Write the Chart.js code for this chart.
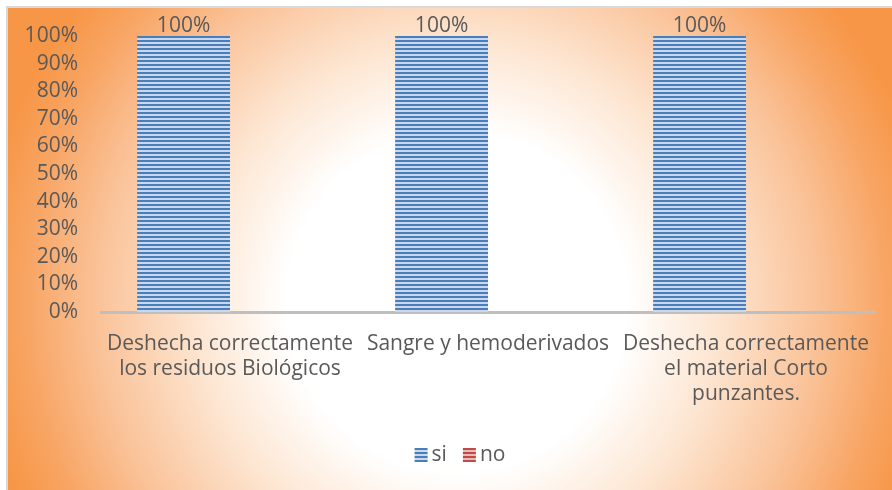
<!DOCTYPE html>
<html>
<head>
<meta charset="utf-8">
<script src="https://cdn.jsdelivr.net/npm/chart.js@4.4.1/dist/chart.umd.min.js"></script>
<style>
  html, body { margin: 0; padding: 0; background: #ffffff; }
  #bg {
    position: absolute; left: 6px; top: 6px; width: 886px; height: 484px;
    border-left: 2px solid #d9d9d9; border-top: 2px solid #d9d9d9;
    box-sizing: border-box;
    background: radial-gradient(circle 480px at 449px 294px, #ffffff 0px, #ffffff 170px, #fde6d2 260px, #fac298 360px, #f8a564 430px, #f79646 480px);
  }
  #wrap { position: absolute; left: 0; top: 0; width: 892px; height: 490px; }
</style>
</head>
<body>
<div id="bg"></div>
<div id="wrap"><canvas id="c" width="892" height="490"></canvas></div>
<script>
const categories = [
  ["Deshecha correctamente", "los residuos Biológicos"],
  ["Sangre y hemoderivados"],
  ["Deshecha correctamente", "el material Corto", "punzantes."]
];
const seriesNames = ["si", "no"];
const siValues = [100, 100, 100];
const noValues = [0, 0, 0];
const yTicks = [0, 10, 20, 30, 40, 50, 60, 70, 80, 90, 100];

function stripePattern(dark, light) {
  const p = document.createElement('canvas');
  p.width = 4; p.height = 4;
  const g = p.getContext('2d');
  g.fillStyle = light; g.fillRect(0, 0, 4, 4);
  g.fillStyle = dark; g.fillRect(0, 0, 4, 2);
  return document.getElementById('c').getContext('2d').createPattern(p, 'repeat');
}
const siFill = stripePattern('#4a7ebb', '#c9d8ec');
const noFill = stripePattern('#be4b48', '#eab9b8');

const FONT = "'Open Sans', sans-serif";
const FS = 21;
const TEXT = '#595959';

const valueLabels = {
  id: 'valueLabels',
  afterDatasetsDraw(chart) {
    const ctx = chart.ctx;
    ctx.save();
    ctx.font = FS + "px " + FONT;
    ctx.fillStyle = TEXT;
    ctx.textAlign = 'center';
    ctx.textBaseline = 'bottom';
    chart.data.datasets.forEach((ds, di) => {
      const meta = chart.getDatasetMeta(di);
      meta.data.forEach((bar, i) => {
        const v = ds.data[i];
        if (!v) return;
        ctx.fillText(v + '%', bar.x, bar.y + 1);
      });
    });
    ctx.restore();
  }
};

const customLegend = {
  id: 'customLegend',
  afterDraw(chart) {
    const ctx = chart.ctx;
    ctx.save();
    ctx.font = FS + "px " + FONT;
    ctx.textBaseline = 'middle';
    ctx.textAlign = 'left';
    const boxW = 13, boxH = 14, gapText = 4, gapItem = 16;
    const items = chart.data.datasets.map(ds => ({ label: ds.label, fill: ds.backgroundColor, w: ctx.measureText(ds.label).width }));
    let total = 0;
    items.forEach((it, i) => { total += boxW + gapText + it.w + (i < items.length - 1 ? gapItem : 0); });
    const cy = 455;
    let x = 460 - total / 2;
    items.forEach(it => {
      ctx.fillStyle = it.fill;
      ctx.fillRect(x, cy - boxH / 2, boxW, boxH);
      x += boxW + gapText;
      ctx.fillStyle = TEXT;
      ctx.fillText(it.label, x, cy);
      x += it.w + gapItem;
    });
    ctx.restore();
  }
};

new Chart(document.getElementById('c'), {
  type: 'bar',
  data: {
    labels: categories,
    datasets: [
      { label: seriesNames[0], data: siValues, backgroundColor: siFill, borderWidth: 0 },
      { label: seriesNames[1], data: noValues, backgroundColor: noFill, borderWidth: 0 }
    ]
  },
  options: {
    responsive: false,
    animation: false,
    devicePixelRatio: 1,
    layout: { padding: { left: 0, right: 17, top: 36, bottom: 0 } },
    datasets: { bar: { barPercentage: 1.0, categoryPercentage: 0.72 } },
    scales: {
      x: {
        afterFit(s) { s.height = 178; },
        grid: { display: false, drawTicks: false },
        border: { display: true, color: '#bfbfbf', width: 3 },
        ticks: { color: TEXT, font: { family: FONT, size: FS, lineHeight: 1.2 }, padding: 19, maxRotation: 0, autoSkip: false }
      },
      y: {
        min: 0, max: 100,
        afterFit(s) { s.width = 101; },
        afterBuildTicks(s) { s.ticks = yTicks.map(v => ({ value: v })); },
        grid: { display: false, drawTicks: false },
        border: { display: false },
        ticks: { color: TEXT, font: { family: FONT, size: FS }, padding: 23, autoSkip: false, callback: v => v + '%' }
      }
    },
    plugins: {
      legend: { display: false },
      tooltip: { enabled: false }
    }
  },
  plugins: [valueLabels, customLegend]
});
</script>
</body>
</html>
